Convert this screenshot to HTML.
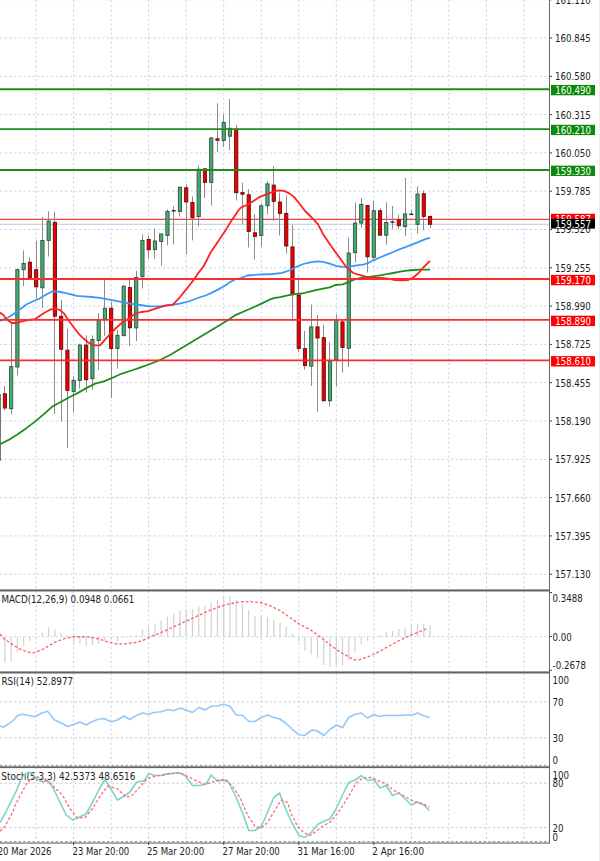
<!DOCTYPE html><html><head><meta charset="utf-8"><title>Chart</title><style>html,body{margin:0;padding:0;background:#fff;overflow:hidden}svg{display:block}</style></head><body><svg width="600" height="861" viewBox="0 0 600 861"><rect width="600" height="861" fill="#fff"/><g stroke="#c9d5ea" stroke-width="1" stroke-dasharray="2.3 2.35" fill="none"><line x1="0" y1="-0.30" x2="549" y2="-0.30"/><line x1="0" y1="38.00" x2="549" y2="38.00"/><line x1="0" y1="76.30" x2="549" y2="76.30"/><line x1="0" y1="114.60" x2="549" y2="114.60"/><line x1="0" y1="152.90" x2="549" y2="152.90"/><line x1="0" y1="191.20" x2="549" y2="191.20"/><line x1="0" y1="229.50" x2="549" y2="229.50"/><line x1="0" y1="267.80" x2="549" y2="267.80"/><line x1="0" y1="306.10" x2="549" y2="306.10"/><line x1="0" y1="344.40" x2="549" y2="344.40"/><line x1="0" y1="382.70" x2="549" y2="382.70"/><line x1="0" y1="421.00" x2="549" y2="421.00"/><line x1="0" y1="459.30" x2="549" y2="459.30"/><line x1="0" y1="497.60" x2="549" y2="497.60"/><line x1="0" y1="535.90" x2="549" y2="535.90"/><line x1="0" y1="574.20" x2="549" y2="574.20"/><line x1="36.00" y1="0" x2="36.00" y2="589"/><line x1="73.54" y1="0" x2="73.54" y2="589"/><line x1="111.08" y1="0" x2="111.08" y2="589"/><line x1="148.62" y1="0" x2="148.62" y2="589"/><line x1="186.16" y1="0" x2="186.16" y2="589"/><line x1="223.70" y1="0" x2="223.70" y2="589"/><line x1="261.24" y1="0" x2="261.24" y2="589"/><line x1="298.78" y1="0" x2="298.78" y2="589"/><line x1="336.32" y1="0" x2="336.32" y2="589"/><line x1="373.86" y1="0" x2="373.86" y2="589"/><line x1="411.40" y1="0" x2="411.40" y2="589"/><line x1="448.94" y1="0" x2="448.94" y2="589"/><line x1="486.48" y1="0" x2="486.48" y2="589"/><line x1="524.02" y1="0" x2="524.02" y2="589"/><line x1="36.00" y1="591" x2="36.00" y2="671"/><line x1="73.54" y1="591" x2="73.54" y2="671"/><line x1="111.08" y1="591" x2="111.08" y2="671"/><line x1="148.62" y1="591" x2="148.62" y2="671"/><line x1="186.16" y1="591" x2="186.16" y2="671"/><line x1="223.70" y1="591" x2="223.70" y2="671"/><line x1="261.24" y1="591" x2="261.24" y2="671"/><line x1="298.78" y1="591" x2="298.78" y2="671"/><line x1="336.32" y1="591" x2="336.32" y2="671"/><line x1="373.86" y1="591" x2="373.86" y2="671"/><line x1="411.40" y1="591" x2="411.40" y2="671"/><line x1="448.94" y1="591" x2="448.94" y2="671"/><line x1="486.48" y1="591" x2="486.48" y2="671"/><line x1="524.02" y1="591" x2="524.02" y2="671"/><line x1="36.00" y1="673" x2="36.00" y2="765"/><line x1="73.54" y1="673" x2="73.54" y2="765"/><line x1="111.08" y1="673" x2="111.08" y2="765"/><line x1="148.62" y1="673" x2="148.62" y2="765"/><line x1="186.16" y1="673" x2="186.16" y2="765"/><line x1="223.70" y1="673" x2="223.70" y2="765"/><line x1="261.24" y1="673" x2="261.24" y2="765"/><line x1="298.78" y1="673" x2="298.78" y2="765"/><line x1="336.32" y1="673" x2="336.32" y2="765"/><line x1="373.86" y1="673" x2="373.86" y2="765"/><line x1="411.40" y1="673" x2="411.40" y2="765"/><line x1="448.94" y1="673" x2="448.94" y2="765"/><line x1="486.48" y1="673" x2="486.48" y2="765"/><line x1="524.02" y1="673" x2="524.02" y2="765"/><line x1="36.00" y1="767" x2="36.00" y2="842"/><line x1="73.54" y1="767" x2="73.54" y2="842"/><line x1="111.08" y1="767" x2="111.08" y2="842"/><line x1="148.62" y1="767" x2="148.62" y2="842"/><line x1="186.16" y1="767" x2="186.16" y2="842"/><line x1="223.70" y1="767" x2="223.70" y2="842"/><line x1="261.24" y1="767" x2="261.24" y2="842"/><line x1="298.78" y1="767" x2="298.78" y2="842"/><line x1="336.32" y1="767" x2="336.32" y2="842"/><line x1="373.86" y1="767" x2="373.86" y2="842"/><line x1="411.40" y1="767" x2="411.40" y2="842"/><line x1="448.94" y1="767" x2="448.94" y2="842"/><line x1="486.48" y1="767" x2="486.48" y2="842"/><line x1="524.02" y1="767" x2="524.02" y2="842"/><line x1="0" y1="636.75" x2="549" y2="636.75"/></g><g stroke="#c8c8c8" stroke-width="1" stroke-dasharray="2.3 2.35"><line x1="0" y1="701.9" x2="549" y2="701.9"/><line x1="0" y1="737.8" x2="549" y2="737.8"/><line x1="0" y1="783.2" x2="549" y2="783.2"/><line x1="0" y1="827.6" x2="549" y2="827.6"/></g><line x1="0" y1="219.4" x2="549" y2="219.4" stroke="#ff4040" stroke-width="1.1"/><line x1="0" y1="224.4" x2="549" y2="224.4" stroke="#c8d6ea" stroke-width="1.2"/><line x1="-1.50" y1="394.6" x2="-1.50" y2="460.5" stroke="#8c8c8c" stroke-width="1"/><rect x="-2.96" y="394.60" width="3.2" height="65.90" fill="#3cb371" stroke="#3a4a40" stroke-width="0.9"/><line x1="4.50" y1="386" x2="4.50" y2="410.3" stroke="#8c8c8c" stroke-width="1"/><rect x="3.30" y="393.80" width="3.2" height="14.20" fill="#ee0000" stroke="#6a0a0a" stroke-width="0.9"/><line x1="11.50" y1="322.4" x2="11.50" y2="414.5" stroke="#8c8c8c" stroke-width="1"/><rect x="9.55" y="366.60" width="3.2" height="42.10" fill="#3cb371" stroke="#3a4a40" stroke-width="0.9"/><line x1="17.50" y1="268.5" x2="17.50" y2="375.5" stroke="#8c8c8c" stroke-width="1"/><rect x="15.80" y="269.60" width="3.2" height="97.40" fill="#3cb371" stroke="#3a4a40" stroke-width="0.9"/><line x1="23.50" y1="250.5" x2="23.50" y2="286" stroke="#8c8c8c" stroke-width="1"/><rect x="22.05" y="263.40" width="3.2" height="6.30" fill="#3cb371" stroke="#3a4a40" stroke-width="0.9"/><line x1="29.50" y1="257.3" x2="29.50" y2="278.5" stroke="#8c8c8c" stroke-width="1"/><rect x="28.30" y="262.20" width="3.2" height="15.50" fill="#ee0000" stroke="#6a0a0a" stroke-width="0.9"/><line x1="36.50" y1="240.7" x2="36.50" y2="298" stroke="#8c8c8c" stroke-width="1"/><rect x="34.56" y="269.70" width="3.2" height="17.10" fill="#ee0000" stroke="#6a0a0a" stroke-width="0.9"/><line x1="42.50" y1="216.9" x2="42.50" y2="307.9" stroke="#8c8c8c" stroke-width="1"/><rect x="40.81" y="240.40" width="3.2" height="47.40" fill="#3cb371" stroke="#3a4a40" stroke-width="0.9"/><line x1="48.50" y1="211.3" x2="48.50" y2="256.5" stroke="#8c8c8c" stroke-width="1"/><rect x="47.06" y="221.10" width="3.2" height="19.30" fill="#3cb371" stroke="#3a4a40" stroke-width="0.9"/><line x1="54.50" y1="212" x2="54.50" y2="414" stroke="#8c8c8c" stroke-width="1"/><rect x="53.31" y="222.30" width="3.2" height="93.90" fill="#ee0000" stroke="#6a0a0a" stroke-width="0.9"/><line x1="61.50" y1="299.6" x2="61.50" y2="421.4" stroke="#8c8c8c" stroke-width="1"/><rect x="59.56" y="316.20" width="3.2" height="33.00" fill="#ee0000" stroke="#6a0a0a" stroke-width="0.9"/><line x1="67.50" y1="328.8" x2="67.50" y2="448.3" stroke="#8c8c8c" stroke-width="1"/><rect x="65.82" y="350.20" width="3.2" height="40.20" fill="#ee0000" stroke="#6a0a0a" stroke-width="0.9"/><line x1="73.50" y1="376.4" x2="73.50" y2="412.5" stroke="#8c8c8c" stroke-width="1"/><rect x="72.07" y="380.30" width="3.2" height="11.10" fill="#3cb371" stroke="#3a4a40" stroke-width="0.9"/><line x1="79.50" y1="343.6" x2="79.50" y2="388.7" stroke="#8c8c8c" stroke-width="1"/><rect x="78.32" y="345.10" width="3.2" height="35.30" fill="#3cb371" stroke="#3a4a40" stroke-width="0.9"/><line x1="86.50" y1="335.3" x2="86.50" y2="392.6" stroke="#8c8c8c" stroke-width="1"/><rect x="84.57" y="345.10" width="3.2" height="34.70" fill="#ee0000" stroke="#6a0a0a" stroke-width="0.9"/><line x1="92.50" y1="335.3" x2="92.50" y2="389.6" stroke="#8c8c8c" stroke-width="1"/><rect x="90.82" y="339.50" width="3.2" height="39.20" fill="#3cb371" stroke="#3a4a40" stroke-width="0.9"/><line x1="98.50" y1="313.2" x2="98.50" y2="370" stroke="#8c8c8c" stroke-width="1"/><rect x="97.08" y="320.60" width="3.2" height="19.90" fill="#3cb371" stroke="#3a4a40" stroke-width="0.9"/><line x1="104.50" y1="279.7" x2="104.50" y2="336" stroke="#8c8c8c" stroke-width="1"/><rect x="103.33" y="308.30" width="3.2" height="10.90" fill="#3cb371" stroke="#3a4a40" stroke-width="0.9"/><line x1="111.50" y1="301.5" x2="111.50" y2="397.9" stroke="#8c8c8c" stroke-width="1"/><rect x="109.58" y="308.20" width="3.2" height="40.30" fill="#ee0000" stroke="#6a0a0a" stroke-width="0.9"/><line x1="117.50" y1="329.8" x2="117.50" y2="368.5" stroke="#8c8c8c" stroke-width="1"/><rect x="115.83" y="335.30" width="3.2" height="13.20" fill="#3cb371" stroke="#3a4a40" stroke-width="0.9"/><line x1="123.50" y1="284.7" x2="123.50" y2="336.7" stroke="#8c8c8c" stroke-width="1"/><rect x="122.08" y="286.20" width="3.2" height="49.30" fill="#3cb371" stroke="#3a4a40" stroke-width="0.9"/><line x1="129.50" y1="277.8" x2="129.50" y2="346" stroke="#8c8c8c" stroke-width="1"/><rect x="128.34" y="287.50" width="3.2" height="40.30" fill="#ee0000" stroke="#6a0a0a" stroke-width="0.9"/><line x1="136.50" y1="270.9" x2="136.50" y2="341" stroke="#8c8c8c" stroke-width="1"/><rect x="134.59" y="277.40" width="3.2" height="50.50" fill="#3cb371" stroke="#3a4a40" stroke-width="0.9"/><line x1="142.50" y1="234.4" x2="142.50" y2="288.5" stroke="#8c8c8c" stroke-width="1"/><rect x="140.84" y="240.40" width="3.2" height="36.30" fill="#3cb371" stroke="#3a4a40" stroke-width="0.9"/><line x1="148.50" y1="235.5" x2="148.50" y2="258.8" stroke="#8c8c8c" stroke-width="1"/><rect x="147.09" y="239.50" width="3.2" height="10.30" fill="#ee0000" stroke="#6a0a0a" stroke-width="0.9"/><line x1="154.50" y1="228.7" x2="154.50" y2="258.8" stroke="#8c8c8c" stroke-width="1"/><rect x="153.34" y="241.00" width="3.2" height="8.50" fill="#3cb371" stroke="#3a4a40" stroke-width="0.9"/><line x1="161.50" y1="233.5" x2="161.50" y2="265.6" stroke="#8c8c8c" stroke-width="1"/><rect x="159.60" y="234.00" width="3.2" height="7.50" fill="#3cb371" stroke="#3a4a40" stroke-width="0.9"/><line x1="167.50" y1="209.3" x2="167.50" y2="245.3" stroke="#8c8c8c" stroke-width="1"/><rect x="165.85" y="211.40" width="3.2" height="24.10" fill="#3cb371" stroke="#3a4a40" stroke-width="0.9"/><line x1="173.50" y1="206.1" x2="173.50" y2="244.5" stroke="#8c8c8c" stroke-width="1"/><rect x="171.70" y="210.10" width="4" height="1.4" fill="#222"/><line x1="179.50" y1="186.6" x2="179.50" y2="216.7" stroke="#8c8c8c" stroke-width="1"/><rect x="178.35" y="187.30" width="3.2" height="24.10" fill="#3cb371" stroke="#3a4a40" stroke-width="0.9"/><line x1="186.50" y1="184.3" x2="186.50" y2="254.6" stroke="#8c8c8c" stroke-width="1"/><rect x="184.60" y="187.80" width="3.2" height="14.20" fill="#ee0000" stroke="#6a0a0a" stroke-width="0.9"/><line x1="192.50" y1="196.4" x2="192.50" y2="240.4" stroke="#8c8c8c" stroke-width="1"/><rect x="190.86" y="202.40" width="3.2" height="15.40" fill="#ee0000" stroke="#6a0a0a" stroke-width="0.9"/><line x1="198.50" y1="165.4" x2="198.50" y2="226.4" stroke="#8c8c8c" stroke-width="1"/><rect x="197.11" y="169.20" width="3.2" height="47.40" fill="#3cb371" stroke="#3a4a40" stroke-width="0.9"/><line x1="204.50" y1="168.8" x2="204.50" y2="197.9" stroke="#8c8c8c" stroke-width="1"/><rect x="203.36" y="168.80" width="3.2" height="13.50" fill="#ee0000" stroke="#6a0a0a" stroke-width="0.9"/><line x1="211.50" y1="136.8" x2="211.50" y2="205.4" stroke="#8c8c8c" stroke-width="1"/><rect x="209.61" y="138.00" width="3.2" height="44.30" fill="#3cb371" stroke="#3a4a40" stroke-width="0.9"/><line x1="217.50" y1="103.3" x2="217.50" y2="152.2" stroke="#8c8c8c" stroke-width="1"/><rect x="215.86" y="138.80" width="3.2" height="1.50" fill="#ee0000" stroke="#6a0a0a" stroke-width="0.9"/><line x1="223.50" y1="114.1" x2="223.50" y2="147" stroke="#8c8c8c" stroke-width="1"/><rect x="222.12" y="122.40" width="3.2" height="18.10" fill="#3cb371" stroke="#3a4a40" stroke-width="0.9"/><line x1="229.50" y1="99" x2="229.50" y2="150.4" stroke="#8c8c8c" stroke-width="1"/><rect x="228.37" y="128.30" width="3.2" height="7.90" fill="#3cb371" stroke="#3a4a40" stroke-width="0.9"/><line x1="236.50" y1="125.1" x2="236.50" y2="200.5" stroke="#8c8c8c" stroke-width="1"/><rect x="234.62" y="129.30" width="3.2" height="63.40" fill="#ee0000" stroke="#6a0a0a" stroke-width="0.9"/><line x1="242.50" y1="182.7" x2="242.50" y2="223.9" stroke="#8c8c8c" stroke-width="1"/><rect x="240.87" y="192.60" width="3.2" height="1.60" fill="#ee0000" stroke="#6a0a0a" stroke-width="0.9"/><line x1="248.50" y1="189.2" x2="248.50" y2="247.5" stroke="#8c8c8c" stroke-width="1"/><rect x="247.12" y="194.80" width="3.2" height="36.60" fill="#ee0000" stroke="#6a0a0a" stroke-width="0.9"/><line x1="254.50" y1="214.1" x2="254.50" y2="259.5" stroke="#8c8c8c" stroke-width="1"/><rect x="253.38" y="232.80" width="3.2" height="3.50" fill="#ee0000" stroke="#6a0a0a" stroke-width="0.9"/><line x1="261.50" y1="203.6" x2="261.50" y2="246.9" stroke="#8c8c8c" stroke-width="1"/><rect x="259.63" y="205.80" width="3.2" height="29.60" fill="#3cb371" stroke="#3a4a40" stroke-width="0.9"/><line x1="267.50" y1="180.9" x2="267.50" y2="214.4" stroke="#8c8c8c" stroke-width="1"/><rect x="265.88" y="183.90" width="3.2" height="21.90" fill="#3cb371" stroke="#3a4a40" stroke-width="0.9"/><line x1="273.50" y1="166.1" x2="273.50" y2="220.9" stroke="#8c8c8c" stroke-width="1"/><rect x="272.13" y="185.10" width="3.2" height="16.20" fill="#ee0000" stroke="#6a0a0a" stroke-width="0.9"/><line x1="279.50" y1="192.7" x2="279.50" y2="235.4" stroke="#8c8c8c" stroke-width="1"/><rect x="278.38" y="202.00" width="3.2" height="11.40" fill="#ee0000" stroke="#6a0a0a" stroke-width="0.9"/><line x1="286.50" y1="195.3" x2="286.50" y2="253.5" stroke="#8c8c8c" stroke-width="1"/><rect x="284.64" y="213.40" width="3.2" height="32.60" fill="#ee0000" stroke="#6a0a0a" stroke-width="0.9"/><line x1="292.50" y1="224.8" x2="292.50" y2="321.2" stroke="#8c8c8c" stroke-width="1"/><rect x="290.89" y="246.90" width="3.2" height="47.30" fill="#ee0000" stroke="#6a0a0a" stroke-width="0.9"/><line x1="298.50" y1="277.3" x2="298.50" y2="352" stroke="#8c8c8c" stroke-width="1"/><rect x="297.14" y="295.40" width="3.2" height="53.00" fill="#ee0000" stroke="#6a0a0a" stroke-width="0.9"/><line x1="304.50" y1="330.9" x2="304.50" y2="369.7" stroke="#8c8c8c" stroke-width="1"/><rect x="303.39" y="348.60" width="3.2" height="17.00" fill="#ee0000" stroke="#6a0a0a" stroke-width="0.9"/><line x1="311.50" y1="304.5" x2="311.50" y2="386" stroke="#8c8c8c" stroke-width="1"/><rect x="309.64" y="326.90" width="3.2" height="39.20" fill="#3cb371" stroke="#3a4a40" stroke-width="0.9"/><line x1="317.50" y1="315.1" x2="317.50" y2="412" stroke="#8c8c8c" stroke-width="1"/><rect x="315.90" y="326.90" width="3.2" height="11.10" fill="#ee0000" stroke="#6a0a0a" stroke-width="0.9"/><line x1="323.50" y1="324.9" x2="323.50" y2="400.8" stroke="#8c8c8c" stroke-width="1"/><rect x="322.15" y="337.70" width="3.2" height="63.10" fill="#ee0000" stroke="#6a0a0a" stroke-width="0.9"/><line x1="329.50" y1="342.3" x2="329.50" y2="406.4" stroke="#8c8c8c" stroke-width="1"/><rect x="328.40" y="361.10" width="3.2" height="39.70" fill="#3cb371" stroke="#3a4a40" stroke-width="0.9"/><line x1="336.50" y1="314.3" x2="336.50" y2="386" stroke="#8c8c8c" stroke-width="1"/><rect x="334.65" y="320.80" width="3.2" height="38.80" fill="#3cb371" stroke="#3a4a40" stroke-width="0.9"/><line x1="342.50" y1="320.4" x2="342.50" y2="372.7" stroke="#8c8c8c" stroke-width="1"/><rect x="340.90" y="321.90" width="3.2" height="25.60" fill="#ee0000" stroke="#6a0a0a" stroke-width="0.9"/><line x1="348.50" y1="237.6" x2="348.50" y2="367.1" stroke="#8c8c8c" stroke-width="1"/><rect x="347.16" y="253.00" width="3.2" height="95.30" fill="#3cb371" stroke="#3a4a40" stroke-width="0.9"/><line x1="355.50" y1="202.4" x2="355.50" y2="262.3" stroke="#8c8c8c" stroke-width="1"/><rect x="353.41" y="223.10" width="3.2" height="29.60" fill="#3cb371" stroke="#3a4a40" stroke-width="0.9"/><line x1="361.50" y1="197.9" x2="361.50" y2="228.1" stroke="#8c8c8c" stroke-width="1"/><rect x="359.66" y="204.40" width="3.2" height="18.70" fill="#3cb371" stroke="#3a4a40" stroke-width="0.9"/><line x1="367.50" y1="205.5" x2="367.50" y2="272.6" stroke="#8c8c8c" stroke-width="1"/><rect x="365.91" y="205.50" width="3.2" height="51.30" fill="#ee0000" stroke="#6a0a0a" stroke-width="0.9"/><line x1="373.50" y1="200.9" x2="373.50" y2="259.8" stroke="#8c8c8c" stroke-width="1"/><rect x="372.16" y="210.70" width="3.2" height="46.50" fill="#3cb371" stroke="#3a4a40" stroke-width="0.9"/><line x1="380.50" y1="208.5" x2="380.50" y2="235.2" stroke="#8c8c8c" stroke-width="1"/><rect x="378.42" y="210.70" width="3.2" height="24.50" fill="#ee0000" stroke="#6a0a0a" stroke-width="0.9"/><line x1="386.50" y1="202.4" x2="386.50" y2="244.7" stroke="#8c8c8c" stroke-width="1"/><rect x="384.67" y="222.50" width="3.2" height="12.70" fill="#3cb371" stroke="#3a4a40" stroke-width="0.9"/><line x1="392.50" y1="205.9" x2="392.50" y2="228.9" stroke="#8c8c8c" stroke-width="1"/><rect x="390.52" y="221.40" width="4" height="1.4" fill="#222"/><line x1="398.50" y1="214.7" x2="398.50" y2="229.2" stroke="#8c8c8c" stroke-width="1"/><rect x="397.17" y="219.90" width="3.2" height="5.80" fill="#ee0000" stroke="#6a0a0a" stroke-width="0.9"/><line x1="405.50" y1="177.9" x2="405.50" y2="236.1" stroke="#8c8c8c" stroke-width="1"/><rect x="403.42" y="213.90" width="3.2" height="12.70" fill="#3cb371" stroke="#3a4a40" stroke-width="0.9"/><line x1="411.50" y1="210" x2="411.50" y2="214.3" stroke="#8c8c8c" stroke-width="1"/><rect x="409.28" y="213.60" width="4" height="1.4" fill="#222"/><line x1="417.50" y1="186.5" x2="417.50" y2="233.6" stroke="#8c8c8c" stroke-width="1"/><rect x="415.93" y="194.10" width="3.2" height="30.20" fill="#3cb371" stroke="#3a4a40" stroke-width="0.9"/><line x1="423.50" y1="190.3" x2="423.50" y2="230.3" stroke="#8c8c8c" stroke-width="1"/><rect x="422.18" y="193.80" width="3.2" height="22.60" fill="#ee0000" stroke="#6a0a0a" stroke-width="0.9"/><line x1="430.50" y1="215.5" x2="430.50" y2="228" stroke="#8c8c8c" stroke-width="1"/><rect x="428.43" y="216.40" width="3.2" height="7.90" fill="#ee0000" stroke="#6a0a0a" stroke-width="0.9"/><polyline points="0.00,444.30 8.70,439.90 17.30,434.50 26.00,428.40 34.70,421.90 43.30,414.60 52.00,406.80 60.70,402.00 69.30,397.20 78.00,392.90 86.70,387.90 95.30,383.60 104.00,381.40 112.70,377.70 121.30,373.80 130.00,371.00 140.00,367.60 150.00,364.00 160.00,360.00 170.00,355.00 180.00,349.00 190.00,343.00 200.00,337.00 210.00,331.00 220.00,325.00 228.00,320.00 236.00,314.80 240.00,313.10 247.30,310.00 254.70,306.70 262.00,303.40 269.30,299.70 274.80,297.90 280.30,297.10 287.70,295.30 295.00,294.20 302.30,293.50 309.70,291.60 317.00,289.80 324.30,288.30 329.80,287.40 335.30,285.00 342.70,284.30 346.70,282.80 353.30,280.00 360.00,278.00 366.70,277.20 373.30,276.30 380.00,275.30 386.70,274.20 393.30,273.00 400.00,271.70 406.70,270.70 413.30,270.00 420.00,269.70 430.00,269.70" fill="none" stroke="#1e8c1e" stroke-width="1.8" stroke-linejoin="round"/><polyline points="0.00,320.80 6.70,318.30 13.30,314.20 20.00,309.20 26.70,304.20 33.30,301.20 40.00,298.30 46.70,294.20 51.70,291.70 56.70,291.30 63.30,292.50 70.00,294.20 76.70,295.80 83.30,296.30 91.70,297.00 100.00,297.80 106.70,299.10 113.30,300.40 120.00,301.60 130.00,303.60 140.00,305.00 150.00,306.40 160.00,306.40 170.00,305.00 180.00,303.60 190.00,301.00 200.50,297.00 205.60,295.50 212.00,292.60 218.40,289.40 224.80,285.80 229.90,282.30 235.00,279.40 240.00,278.30 247.30,275.50 258.30,274.60 273.00,274.00 282.20,272.80 290.50,270.00 297.50,266.30 303.30,264.00 310.30,262.30 317.30,261.40 323.20,261.90 329.00,263.40 336.00,265.80 343.00,266.90 347.70,267.10 352.00,266.20 356.70,265.30 363.30,264.70 368.30,263.00 373.30,260.30 380.00,257.50 386.70,254.70 393.30,252.00 400.00,249.20 406.70,246.70 413.30,244.20 420.00,241.30 426.70,238.70 430.00,238.00" fill="none" stroke="#3a9af2" stroke-width="1.8" stroke-linejoin="round"/><polyline points="0.00,312.50 3.30,315.00 6.70,319.20 11.70,323.00 16.70,323.00 21.70,321.30 28.30,320.00 35.00,319.20 40.00,315.80 45.00,312.50 50.00,309.70 55.00,308.70 60.00,310.00 64.20,313.70 68.30,320.00 73.30,326.70 78.30,333.30 83.30,338.30 88.30,342.50 93.30,345.30 100.00,345.30 105.30,339.30 110.70,333.30 116.00,328.00 121.30,323.30 126.70,320.00 132.00,316.00 136.00,313.30 141.30,312.00 148.00,311.10 153.30,309.30 160.00,307.10 166.70,305.30 172.70,304.90 176.70,300.70 180.10,297.00 185.20,290.60 190.30,284.30 194.10,279.20 198.00,273.40 203.10,267.00 206.90,260.00 210.70,252.30 215.90,244.70 221.00,237.00 226.10,229.40 231.20,221.10 234.00,217.00 238.00,211.00 241.00,207.50 244.00,206.20 247.00,205.00 250.00,203.20 255.00,200.00 260.00,196.80 265.00,194.80 270.00,193.00 275.00,191.20 280.00,190.30 284.70,191.10 289.30,193.40 294.00,196.90 298.70,202.80 304.50,210.30 309.20,215.00 313.80,219.70 317.90,224.10 323.20,234.30 329.00,243.00 334.80,251.20 340.70,259.30 345.30,265.80 348.80,269.30 353.30,273.00 358.30,274.70 363.30,275.80 368.30,277.50 375.00,277.80 381.70,277.80 388.30,278.70 395.00,280.00 401.70,280.30 408.30,280.00 413.30,277.50 418.30,273.30 423.30,267.50 430.00,260.80" fill="none" stroke="#ff2020" stroke-width="1.8" stroke-linejoin="round"/><line x1="0" y1="89.27" x2="549" y2="89.27" stroke="#1f8c1f" stroke-width="1.9"/><line x1="0" y1="129.10" x2="549" y2="129.10" stroke="#1f8c1f" stroke-width="1.9"/><line x1="0" y1="169.97" x2="549" y2="169.97" stroke="#1f8c1f" stroke-width="1.9"/><line x1="0" y1="279.06" x2="549" y2="279.06" stroke="#ff2a2a" stroke-width="1.9"/><line x1="0" y1="319.90" x2="549" y2="319.90" stroke="#ff2a2a" stroke-width="1.9"/><line x1="0" y1="360.40" x2="549" y2="360.40" stroke="#ff2a2a" stroke-width="1.9"/><g stroke="#d2d2d2" stroke-width="1.25"><line x1="4.90" y1="636.75" x2="4.90" y2="662.4"/><line x1="11.15" y1="636.75" x2="11.15" y2="661.5"/><line x1="17.40" y1="636.75" x2="17.40" y2="652.4"/><line x1="23.65" y1="636.75" x2="23.65" y2="646"/><line x1="29.90" y1="636.75" x2="29.90" y2="641"/><line x1="36.16" y1="636.75" x2="36.16" y2="637.5"/><line x1="42.41" y1="636.75" x2="42.41" y2="632.6"/><line x1="48.66" y1="636.75" x2="48.66" y2="627.6"/><line x1="54.91" y1="636.75" x2="54.91" y2="629.4"/><line x1="61.16" y1="636.75" x2="61.16" y2="633.1"/><line x1="67.42" y1="636.75" x2="67.42" y2="636"/><line x1="73.67" y1="636.75" x2="73.67" y2="645"/><line x1="79.92" y1="636.75" x2="79.92" y2="643.2"/><line x1="86.17" y1="636.75" x2="86.17" y2="646"/><line x1="92.42" y1="636.75" x2="92.42" y2="645"/><line x1="98.68" y1="636.75" x2="98.68" y2="644"/><line x1="104.93" y1="636.75" x2="104.93" y2="640.4"/><line x1="111.18" y1="636.75" x2="111.18" y2="639.5"/><line x1="117.43" y1="636.75" x2="117.43" y2="642.3"/><line x1="123.68" y1="636.75" x2="123.68" y2="638"/><line x1="129.94" y1="636.75" x2="129.94" y2="637.5"/><line x1="136.19" y1="636.75" x2="136.19" y2="635"/><line x1="142.44" y1="636.75" x2="142.44" y2="629.4"/><line x1="148.69" y1="636.75" x2="148.69" y2="626.7"/><line x1="154.94" y1="636.75" x2="154.94" y2="623.4"/><line x1="161.20" y1="636.75" x2="161.20" y2="620.3"/><line x1="167.45" y1="636.75" x2="167.45" y2="616.6"/><line x1="173.70" y1="636.75" x2="173.70" y2="613.8"/><line x1="179.95" y1="636.75" x2="179.95" y2="610.2"/><line x1="186.20" y1="636.75" x2="186.20" y2="609.3"/><line x1="192.46" y1="636.75" x2="192.46" y2="609.3"/><line x1="198.71" y1="636.75" x2="198.71" y2="606.5"/><line x1="204.96" y1="636.75" x2="204.96" y2="605.6"/><line x1="211.21" y1="636.75" x2="211.21" y2="602.5"/><line x1="217.46" y1="636.75" x2="217.46" y2="600.1"/><line x1="223.72" y1="636.75" x2="223.72" y2="597.3"/><line x1="229.97" y1="636.75" x2="229.97" y2="596.4"/><line x1="236.22" y1="636.75" x2="236.22" y2="600.1"/><line x1="242.47" y1="636.75" x2="242.47" y2="603.8"/><line x1="248.72" y1="636.75" x2="248.72" y2="610.2"/><line x1="254.98" y1="636.75" x2="254.98" y2="615.7"/><line x1="261.23" y1="636.75" x2="261.23" y2="616.6"/><line x1="267.48" y1="636.75" x2="267.48" y2="617.5"/><line x1="273.73" y1="636.75" x2="273.73" y2="620.3"/><line x1="279.98" y1="636.75" x2="279.98" y2="622.7"/><line x1="286.24" y1="636.75" x2="286.24" y2="626.7"/><line x1="292.49" y1="636.75" x2="292.49" y2="633.7"/><line x1="298.74" y1="636.75" x2="298.74" y2="641.4"/><line x1="304.99" y1="636.75" x2="304.99" y2="650.7"/><line x1="311.24" y1="636.75" x2="311.24" y2="654.2"/><line x1="317.50" y1="636.75" x2="317.50" y2="657.7"/><line x1="323.75" y1="636.75" x2="323.75" y2="664.7"/><line x1="330.00" y1="636.75" x2="330.00" y2="667"/><line x1="336.25" y1="636.75" x2="336.25" y2="665.8"/><line x1="342.50" y1="636.75" x2="342.50" y2="665.8"/><line x1="348.76" y1="636.75" x2="348.76" y2="660"/><line x1="355.01" y1="636.75" x2="355.01" y2="652.5"/><line x1="361.26" y1="636.75" x2="361.26" y2="644.1"/><line x1="367.51" y1="636.75" x2="367.51" y2="640.9"/><line x1="373.76" y1="636.75" x2="373.76" y2="637.5"/><line x1="380.02" y1="636.75" x2="380.02" y2="634.8"/><line x1="386.27" y1="636.75" x2="386.27" y2="632"/><line x1="392.52" y1="636.75" x2="392.52" y2="630.8"/><line x1="398.77" y1="636.75" x2="398.77" y2="629.2"/><line x1="405.02" y1="636.75" x2="405.02" y2="627.8"/><line x1="411.28" y1="636.75" x2="411.28" y2="625"/><line x1="417.53" y1="636.75" x2="417.53" y2="623.8"/><line x1="423.78" y1="636.75" x2="423.78" y2="623.8"/><line x1="430.03" y1="636.75" x2="430.03" y2="625"/></g><polyline points="0.00,634.00 3.70,638.60 9.20,642.30 18.30,648.30 27.50,652.00 33.00,652.90 42.20,649.60 55.00,642.30 64.20,638.60 73.30,636.75 86.20,636.75 95.30,638.00 106.30,641.30 117.00,644.10 127.00,643.60 137.00,642.30 145.00,639.50 150.00,636.80 160.00,633.10 170.00,628.50 180.00,623.90 190.00,619.40 200.00,614.80 210.00,610.20 220.00,606.50 230.00,603.80 240.00,601.90 250.00,601.60 260.00,602.50 270.00,605.60 280.00,610.50 290.00,617.50 300.00,624.50 310.00,629.50 320.00,636.70 330.00,644.80 340.00,651.80 350.00,657.70 355.00,660.00 360.00,659.50 370.00,656.00 380.00,651.10 390.00,645.50 400.00,640.20 410.00,635.50 420.00,631.50 427.00,628.50" fill="none" stroke="#ff6464" stroke-width="1.35" stroke-dasharray="2.8 2"/><polyline points="0.00,726.25 3.75,727.00 10.00,723.00 13.75,720.00 17.50,715.50 22.50,714.25 28.75,715.50 35.00,716.75 41.25,713.25 47.50,711.25 54.50,720.00 61.25,723.00 67.50,726.50 73.75,724.50 80.00,722.00 86.25,725.00 91.25,722.00 97.50,719.50 103.75,718.50 111.25,721.75 117.50,720.00 123.75,716.00 130.00,719.50 136.25,715.50 142.50,713.00 148.75,714.25 153.75,712.50 161.25,711.75 167.50,709.50 173.75,710.75 180.00,708.00 186.25,710.00 192.50,712.50 198.75,707.50 205.00,710.00 211.25,706.25 217.50,706.00 223.75,704.25 230.00,706.25 236.25,715.00 242.50,715.50 248.75,721.25 255.00,721.50 261.25,717.50 267.50,715.00 273.75,717.50 280.00,719.00 286.25,723.75 290.00,727.00 293.75,730.75 298.75,734.50 304.50,735.50 312.00,730.00 317.00,730.75 323.75,735.50 330.00,729.50 336.25,725.00 342.50,727.50 348.75,717.50 354.50,714.50 361.25,713.00 367.50,718.00 373.75,714.50 380.00,716.50 383.75,715.50 400.00,715.50 403.75,715.00 412.50,715.00 417.50,713.00 423.75,715.75 429.50,717.50" fill="none" stroke="#94c8f8" stroke-width="1.6" stroke-linejoin="round"/><g fill="#646464"><rect x="0" y="589.4" width="550" height="2.1"/><rect x="0" y="671.4" width="550" height="2.1"/><line x1="0" y1="765.4" x2="549" y2="765.4" stroke="#8a96aa" stroke-width="1" stroke-dasharray="2.3 2.35"/><rect x="0" y="766.3" width="550" height="1.8"/><line x1="0" y1="841.8" x2="549" y2="841.8" stroke="#6a7488" stroke-width="1" stroke-dasharray="2.3 2.35"/><rect x="0" y="842.4" width="550" height="1.4" fill="#8a8a8a"/><rect x="549" y="0" width="1" height="843"/></g><rect x="599" y="0" width="1" height="861" fill="#ececec"/><g stroke="#444" stroke-width="1"><line x1="550" y1="-0.30" x2="552" y2="-0.30"/><line x1="550" y1="38.00" x2="552" y2="38.00"/><line x1="550" y1="76.30" x2="552" y2="76.30"/><line x1="550" y1="114.60" x2="552" y2="114.60"/><line x1="550" y1="152.90" x2="552" y2="152.90"/><line x1="550" y1="191.20" x2="552" y2="191.20"/><line x1="550" y1="229.50" x2="552" y2="229.50"/><line x1="550" y1="267.80" x2="552" y2="267.80"/><line x1="550" y1="306.10" x2="552" y2="306.10"/><line x1="550" y1="344.40" x2="552" y2="344.40"/><line x1="550" y1="382.70" x2="552" y2="382.70"/><line x1="550" y1="421.00" x2="552" y2="421.00"/><line x1="550" y1="459.30" x2="552" y2="459.30"/><line x1="550" y1="497.60" x2="552" y2="497.60"/><line x1="550" y1="535.90" x2="552" y2="535.90"/><line x1="550" y1="574.20" x2="552" y2="574.20"/><line x1="550" y1="592.5" x2="552" y2="592.5"/><line x1="550" y1="636.5" x2="552" y2="636.5"/><line x1="550" y1="670.3" x2="552" y2="670.3"/></g><g stroke="#444" stroke-width="1"><line x1="73.54" y1="842" x2="73.54" y2="845"/><line x1="148.62" y1="842" x2="148.62" y2="845"/><line x1="223.70" y1="842" x2="223.70" y2="845"/><line x1="298.78" y1="842" x2="298.78" y2="845"/><line x1="373.86" y1="842" x2="373.86" y2="845"/></g><g font-family="'DejaVu Sans Condensed', 'DejaVu Sans', sans-serif" font-stretch="condensed" font-size="9.6" fill="#1c1c1c"><text x="555" y="3.60" textLength="35.69" lengthAdjust="spacingAndGlyphs">161.110</text><text x="555" y="41.90" textLength="35.69" lengthAdjust="spacingAndGlyphs">160.845</text><text x="555" y="80.20" textLength="35.69" lengthAdjust="spacingAndGlyphs">160.580</text><text x="555" y="118.50" textLength="35.69" lengthAdjust="spacingAndGlyphs">160.315</text><text x="555" y="156.80" textLength="35.69" lengthAdjust="spacingAndGlyphs">160.050</text><text x="555" y="195.10" textLength="35.69" lengthAdjust="spacingAndGlyphs">159.785</text><text x="555" y="233.40" textLength="35.69" lengthAdjust="spacingAndGlyphs">159.520</text><text x="555" y="271.70" textLength="35.69" lengthAdjust="spacingAndGlyphs">159.255</text><text x="555" y="310.00" textLength="35.69" lengthAdjust="spacingAndGlyphs">158.990</text><text x="555" y="348.30" textLength="35.69" lengthAdjust="spacingAndGlyphs">158.725</text><text x="555" y="386.60" textLength="35.69" lengthAdjust="spacingAndGlyphs">158.455</text><text x="555" y="424.90" textLength="35.69" lengthAdjust="spacingAndGlyphs">158.190</text><text x="555" y="463.20" textLength="35.69" lengthAdjust="spacingAndGlyphs">157.925</text><text x="555" y="501.50" textLength="35.69" lengthAdjust="spacingAndGlyphs">157.660</text><text x="555" y="539.80" textLength="35.69" lengthAdjust="spacingAndGlyphs">157.395</text><text x="555" y="578.10" textLength="35.69" lengthAdjust="spacingAndGlyphs">157.130</text></g><rect x="551" y="84.97" width="44" height="10.30" fill="#0a8a0a"/><text x="555.2" y="94.17" font-family="'DejaVu Sans Condensed', 'DejaVu Sans', sans-serif" font-stretch="condensed" font-size="9.6" fill="#fff" textLength="35.69" lengthAdjust="spacingAndGlyphs">160.490</text><rect x="551" y="124.80" width="44" height="10.30" fill="#0a8a0a"/><text x="555.2" y="134.00" font-family="'DejaVu Sans Condensed', 'DejaVu Sans', sans-serif" font-stretch="condensed" font-size="9.6" fill="#fff" textLength="35.69" lengthAdjust="spacingAndGlyphs">160.210</text><rect x="551" y="165.67" width="44" height="10.30" fill="#0a8a0a"/><text x="555.2" y="174.87" font-family="'DejaVu Sans Condensed', 'DejaVu Sans', sans-serif" font-stretch="condensed" font-size="9.6" fill="#fff" textLength="35.69" lengthAdjust="spacingAndGlyphs">159.930</text><rect x="551" y="213.80" width="44" height="10.20" fill="#ff0000"/><text x="555.2" y="223.10" font-family="'DejaVu Sans Condensed', 'DejaVu Sans', sans-serif" font-stretch="condensed" font-size="9.6" fill="#fff" textLength="35.69" lengthAdjust="spacingAndGlyphs">159.587</text><rect x="551" y="218.80" width="44" height="9.80" fill="#000000"/><text x="555.2" y="227.70" font-family="'DejaVu Sans Condensed', 'DejaVu Sans', sans-serif" font-stretch="condensed" font-size="9.6" fill="#fff" textLength="35.69" lengthAdjust="spacingAndGlyphs">159.557</text><rect x="551" y="274.86" width="44" height="10.40" fill="#ff0000"/><text x="555.2" y="284.16" font-family="'DejaVu Sans Condensed', 'DejaVu Sans', sans-serif" font-stretch="condensed" font-size="9.6" fill="#fff" textLength="35.69" lengthAdjust="spacingAndGlyphs">159.170</text><rect x="551" y="315.70" width="44" height="10.40" fill="#ff0000"/><text x="555.2" y="325.00" font-family="'DejaVu Sans Condensed', 'DejaVu Sans', sans-serif" font-stretch="condensed" font-size="9.6" fill="#fff" textLength="35.69" lengthAdjust="spacingAndGlyphs">158.890</text><rect x="551" y="356.10" width="44" height="10.40" fill="#ff0000"/><text x="555.2" y="365.40" font-family="'DejaVu Sans Condensed', 'DejaVu Sans', sans-serif" font-stretch="condensed" font-size="9.6" fill="#fff" textLength="35.69" lengthAdjust="spacingAndGlyphs">158.610</text><g font-family="'DejaVu Sans Condensed', 'DejaVu Sans', sans-serif" font-stretch="condensed" font-size="9.6" fill="#1c1c1c"><text x="552.6" y="601.80" textLength="30.2" lengthAdjust="spacingAndGlyphs">0.3488</text><text x="552.6" y="640.80" textLength="19.22" lengthAdjust="spacingAndGlyphs">0.00</text><text x="552.6" y="669.00" textLength="33.31" lengthAdjust="spacingAndGlyphs">-0.2678</text><text x="552.6" y="684.00" textLength="16.48" lengthAdjust="spacingAndGlyphs">100</text><text x="552.6" y="706.00" textLength="10.98" lengthAdjust="spacingAndGlyphs">70</text><text x="552.6" y="742.00" textLength="10.98" lengthAdjust="spacingAndGlyphs">30</text><text x="552.6" y="763.60" textLength="5.5" lengthAdjust="spacingAndGlyphs">0</text><text x="552.6" y="778.60" textLength="16.48" lengthAdjust="spacingAndGlyphs">100</text><text x="552.6" y="787.30" textLength="10.98" lengthAdjust="spacingAndGlyphs">80</text><text x="552.6" y="831.80" textLength="10.98" lengthAdjust="spacingAndGlyphs">20</text><text x="552.6" y="840.60" textLength="5.5" lengthAdjust="spacingAndGlyphs">0</text></g><g font-family="'DejaVu Sans Condensed', 'DejaVu Sans', sans-serif" font-stretch="condensed" font-size="9.6" fill="#222"><text x="1.5" y="602.6" textLength="132.9" lengthAdjust="spacingAndGlyphs">MACD(12,26,9) 0.0948 0.0661</text><text x="1.4" y="685.4" textLength="71.8" lengthAdjust="spacingAndGlyphs">RSI(14) 52.8977</text><text x="1.3" y="780.2" textLength="134.1" lengthAdjust="spacingAndGlyphs">Stoch(5,3,3) 42.5373 48.6516</text></g><polyline points="0.00,822.50 5.00,813.75 9.30,805.00 16.00,791.70 21.30,778.30 24.70,774.30 28.70,772.30 32.00,773.00 36.00,778.30 38.70,780.00 42.70,782.00 46.00,781.00 48.70,781.70 53.30,788.30 61.30,805.00 66.25,815.00 72.50,820.00 78.75,817.50 86.25,813.75 93.75,800.00 100.00,787.50 105.00,779.50 110.00,787.50 117.50,800.00 123.75,796.25 130.00,792.00 136.25,782.50 140.00,781.25 143.75,781.25 148.75,773.75 155.00,775.50 161.25,775.50 167.50,773.75 178.75,772.50 185.00,775.50 192.50,785.50 200.00,785.50 206.25,783.75 211.25,775.00 217.50,781.25 223.75,780.00 228.75,782.50 235.00,795.00 242.50,812.50 248.75,830.50 255.00,830.50 261.25,826.25 267.50,812.50 273.75,797.50 279.50,793.00 285.00,807.50 291.25,821.25 298.75,835.50 305.00,837.50 311.25,832.50 317.50,824.50 323.75,821.25 330.00,818.75 336.25,808.75 342.50,795.00 348.75,782.50 355.00,780.00 361.25,775.50 367.50,780.50 373.75,779.50 380.00,788.00 386.25,785.50 392.50,795.50 398.75,793.00 405.00,798.75 411.25,805.00 417.50,802.00 423.75,805.00 429.50,810.50" fill="none" stroke="#7dd3cb" stroke-width="1.6" stroke-linejoin="round"/><polyline points="0.00,831.25 5.00,826.25 12.50,812.50 15.30,805.00 20.00,795.70 26.70,783.70 31.30,778.30 37.30,777.00 41.30,778.30 48.00,781.00 56.00,789.00 62.50,795.00 66.70,803.00 70.00,808.75 77.50,818.00 85.00,817.50 92.50,808.75 100.00,796.25 107.50,786.25 117.50,788.75 126.25,797.50 132.50,795.00 140.00,787.00 147.50,778.75 155.00,776.25 165.00,774.50 180.00,773.00 190.00,777.50 197.50,781.25 205.00,784.50 212.50,782.00 220.00,779.50 226.25,780.00 232.50,786.25 240.00,797.50 247.50,815.00 255.00,826.25 261.25,828.00 267.50,822.50 275.00,810.00 281.25,800.00 287.50,802.50 291.25,813.75 297.50,826.25 303.75,832.50 310.00,835.50 316.25,831.25 322.50,826.25 330.00,822.00 336.25,815.00 342.50,806.25 350.00,793.75 356.25,783.00 362.50,778.00 371.25,777.50 377.50,780.50 386.25,783.75 392.50,789.50 400.00,793.75 407.50,798.00 415.00,802.00 422.50,803.75 429.50,807.00" fill="none" stroke="#ff6e6e" stroke-width="1.35" stroke-dasharray="2.8 2"/><g font-family="'DejaVu Sans Condensed', 'DejaVu Sans', sans-serif" font-stretch="condensed" font-size="9.6" fill="#1c1c1c"><text x="-2.3" y="855.0" textLength="53.8" lengthAdjust="spacingAndGlyphs">20 Mar 2026</text><text x="72.5" y="855.0" textLength="56.7" lengthAdjust="spacingAndGlyphs">23 Mar 20:00</text><text x="147.0" y="855.0" textLength="57.3" lengthAdjust="spacingAndGlyphs">25 Mar 20:00</text><text x="222.6" y="855.0" textLength="57.2" lengthAdjust="spacingAndGlyphs">27 Mar 20:00</text><text x="297.6" y="855.0" textLength="57.1" lengthAdjust="spacingAndGlyphs">31 Mar 16:00</text><text x="372.3" y="855.0" textLength="51.7" lengthAdjust="spacingAndGlyphs">2 Apr 16:00</text></g></svg></body></html>
